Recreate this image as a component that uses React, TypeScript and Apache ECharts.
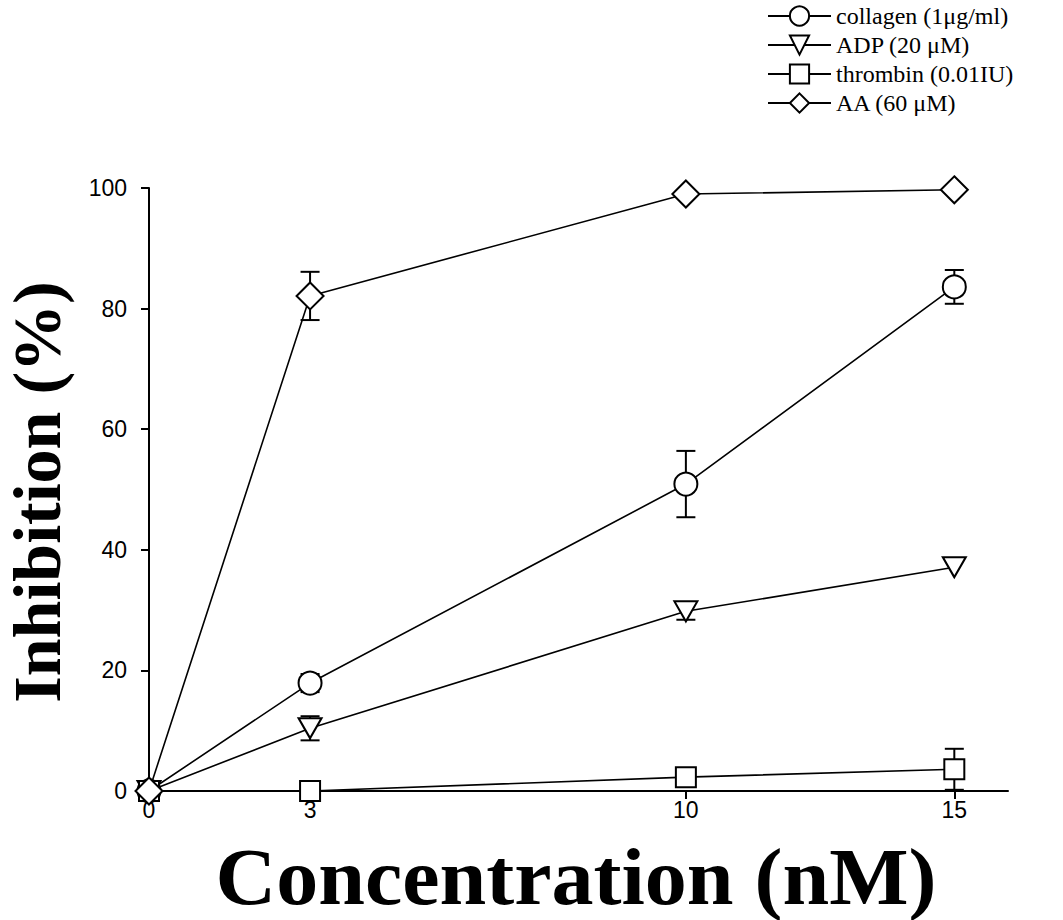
import React, { useEffect, useRef } from "react";
import * as echarts from "echarts";

const xTicks = [0, 3, 10, 15];
const concentrations = [0, 3, 10, 15];
const seriesNames = ["collagen (1μg/ml)", "ADP (20 μM)", "thrombin (0.01IU)", "AA (60 μM)"];
const collagen = [0, 17.9, 50.9, 83.6];
const adp = [0, 10.4, 29.8, 37.1];
const thrombin = [0, 0, 2.3, 3.6];
const aa = [0, 82.1, 99.0, 99.7];
const collagenErr = [0, 1.5, 5.5, 2.8];
const adpErr = [0, 2.0, 1.4, 0];
const thrombinErr = [0, 0, 0, 3.4];
const aaErr = [0, 4.0, 0, 0];

export default function App() {
  const ref = useRef<HTMLDivElement>(null);
  useEffect(() => {
    if (!ref.current) return;
    const chart = echarts.init(ref.current, null, { renderer: "svg" });
    const values = [collagen, adp, thrombin, aa];
    const errs = [collagenErr, adpErr, thrombinErr, aaErr];
    const symbols = [
      { symbol: "circle", size: 23, rotate: 0 },
      { symbol: "triangle", size: [23, 20], rotate: 180 },
      { symbol: "rect", size: 20, rotate: 0 },
      { symbol: "diamond", size: 27, rotate: 0 },
    ];
    const errData: number[][] = [];
    values.forEach((vals, si) => {
      vals.forEach((v, i) => {
        const e = errs[si][i];
        if (e > 0) errData.push([concentrations[i], v - e, v + e]);
      });
    });
    const lineSeries = values.map((vals, si) => ({
      type: "line",
      name: seriesNames[si],
      data: vals.map((v, i) => [concentrations[i], v]),
      symbol: symbols[si].symbol,
      symbolSize: symbols[si].size,
      symbolRotate: symbols[si].rotate,
      showAllSymbol: true,
      z: 3 + si,
      lineStyle: { color: "#000", width: 1.6 },
      itemStyle: { color: "#fff", borderColor: "#000", borderWidth: 2 },
      emphasis: { disabled: true },
    }));
    const option = {
      animation: false,
      legend: {
        orient: "vertical",
        left: 767,
        top: 4,
        padding: 0,
        itemGap: 5,
        itemWidth: 63,
        itemHeight: 24,
        data: seriesNames,
        textStyle: {
          fontFamily: "Liberation Serif",
          fontSize: 24,
          color: "#000",
        },
      },
      grid: { left: 149, right: 55, top: 188, bottom: 129 },
      xAxis: {
        type: "value",
        min: 0,
        max: 16,
        axisLine: { lineStyle: { color: "#000", width: 2 } },
        axisTick: {
          show: true,
          length: 8,
          lineStyle: { color: "#000", width: 2 },
          customValues: xTicks,
        },
        axisLabel: {
          customValues: xTicks,
          fontFamily: "Liberation Sans",
          fontSize: 23,
          color: "#000",
          margin: 7,
        },
        splitLine: { show: false },
      },
      yAxis: {
        type: "value",
        min: 0,
        max: 100,
        interval: 20,
        axisLine: { show: true, lineStyle: { color: "#000", width: 2 } },
        axisTick: { show: true, length: 8, lineStyle: { color: "#000", width: 2 } },
        axisLabel: {
          fontFamily: "Liberation Sans",
          fontSize: 23,
          color: "#000",
          margin: 22,
        },
        splitLine: { show: false },
      },
      graphic: [
        {
          type: "text",
          x: 37,
          y: 492,
          rotation: Math.PI / 2,
          style: {
            text: "Inhibition (%)",
            fontFamily: "Liberation Serif",
            fontWeight: "bold",
            fontSize: 68,
            fill: "#000",
            align: "center",
            verticalAlign: "middle",
          },
        },
        {
          type: "text",
          x: 576,
          y: 877,
          scaleX: 1.05,
          style: {
            text: "Concentration (nM)",
            fontFamily: "Liberation Serif",
            fontWeight: "bold",
            fontSize: 80,
            fill: "#000",
            align: "center",
            verticalAlign: "middle",
          },
        },
      ],
      series: [
        {
          type: "custom",
          z: 1,
          data: errData,
          renderItem: (params: any, api: any) => {
            const x = api.value(0);
            const lo = api.coord([x, api.value(1)]);
            const hi = api.coord([x, api.value(2)]);
            const hw = 9.5;
            const style = { stroke: "#000", lineWidth: 2 };
            return {
              type: "group",
              children: [
                { type: "line", shape: { x1: lo[0], y1: lo[1], x2: hi[0], y2: hi[1] }, style },
                { type: "line", shape: { x1: lo[0] - hw, y1: lo[1], x2: lo[0] + hw, y2: lo[1] }, style },
                { type: "line", shape: { x1: hi[0] - hw, y1: hi[1], x2: hi[0] + hw, y2: hi[1] }, style },
              ],
            };
          },
          silent: true,
        },
        ...lineSeries,
      ],
    };
    chart.setOption(option as any);
    return () => chart.dispose();
  }, []);
  return (
    <div
      ref={ref}
      style={{ position: "fixed", left: 0, top: 0, width: 1063, height: 920, background: "#fff" }}
    />
  );
}
